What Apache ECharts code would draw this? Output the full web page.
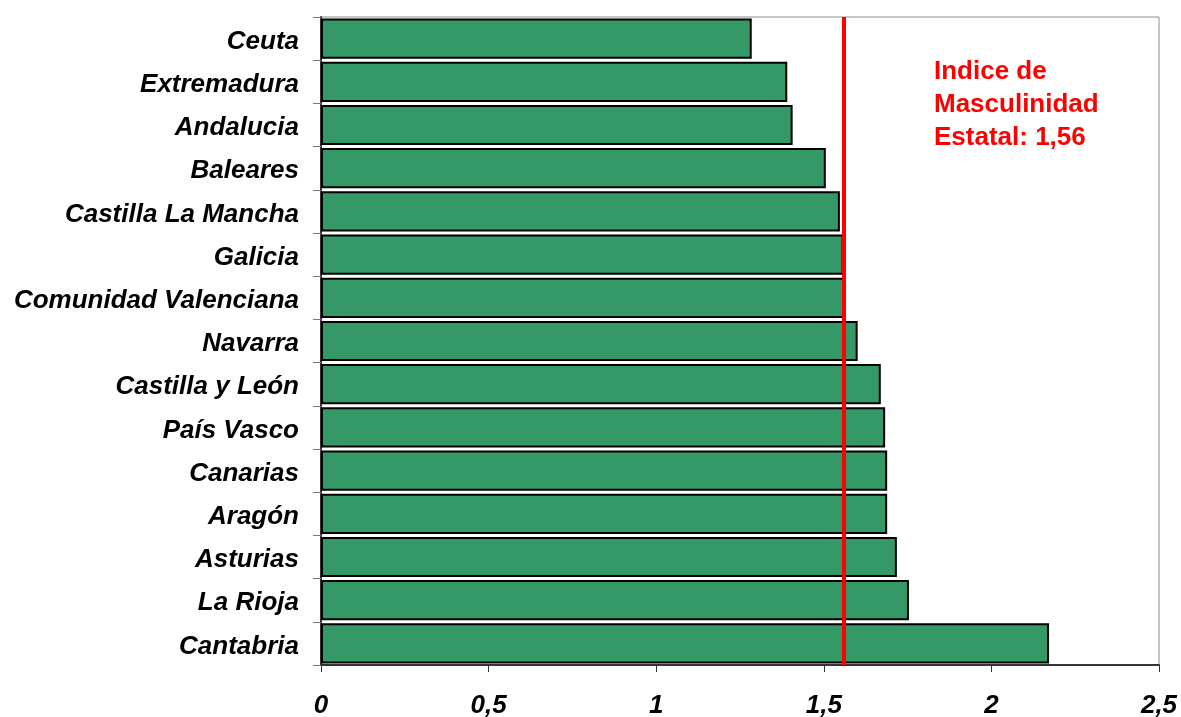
<!DOCTYPE html>
<html>
<head>
<meta charset="utf-8">
<script src="https://cdn.jsdelivr.net/npm/echarts@6/dist/echarts.min.js"></script>
<style>
  html, body { margin: 0; padding: 0; background: #ffffff; }
  #chart { width: 1181px; height: 717px; }
</style>
</head>
<body>
<div id="chart"></div>
<script>
// Comunidades autónomas, ordered top to bottom
const regions = [
  'Ceuta', 'Extremadura', 'Andalucia', 'Baleares', 'Castilla La Mancha',
  'Galicia', 'Comunidad Valenciana', 'Navarra', 'Castilla y León', 'País Vasco',
  'Canarias', 'Aragón', 'Asturias', 'La Rioja', 'Cantabria'
];
// Índice de masculinidad por comunidad
const indexValues = [
  1.285, 1.391, 1.407, 1.506, 1.548,
  1.559, 1.565, 1.601, 1.670, 1.683,
  1.689, 1.689, 1.718, 1.754, 2.172
];
// National reference value
const nationalIndex = 1.56;
const nationalLabel = ['Indice de', 'Masculinidad', 'Estatal: 1,56'];

const chart = echarts.init(document.getElementById('chart'), null, { renderer: 'canvas' });

const labelFont = {
  fontFamily: '"Liberation Sans", Arial, sans-serif',
  fontWeight: 'bold',
  fontStyle: 'italic',
  fontSize: 26,
  color: '#000000'
};

chart.setOption({
  animation: false,
  backgroundColor: '#ffffff',
  grid: {
    left: 321, right: 22, top: 17, bottom: 52,
    outerBoundsMode: 'none',
    containLabel: false,
    show: true, borderColor: '#8c8c8c', borderWidth: 1
  },
  xAxis: {
    type: 'value',
    min: 0, max: 2.5, interval: 0.5,
    axisLine: { show: true, lineStyle: { color: '#333333', width: 2 } },
    axisTick: { show: true, inside: false, length: 7, lineStyle: { color: '#333333', width: 1 } },
    splitLine: { show: false },
    axisLabel: Object.assign({
      margin: 28,
      formatter: v => String(v).replace('.', ',')
    }, labelFont)
  },
  yAxis: {
    type: 'category',
    data: regions,
    inverse: true,
    axisLine: { show: true, lineStyle: { color: '#333333', width: 2 } },
    axisTick: { show: true, inside: false, length: 8, alignWithLabel: false, lineStyle: { color: '#777777', width: 1 } },
    axisLabel: Object.assign({
      margin: 22,
      formatter: name => '{r|' + name + '}',
      rich: { r: Object.assign({ padding: [6, 0, 0, 0] }, labelFont) }
    }, labelFont)
  },
  series: [{
    type: 'bar',
    data: indexValues,
    barCategoryGap: '7%',
    itemStyle: { color: '#349966', borderColor: '#000000', borderWidth: 2 },
    markLine: {
      silent: true,
      symbol: ['none', 'none'],
      label: { show: false },
      lineStyle: { color: '#ff0000', width: 4, type: 'solid' },
      data: [{ xAxis: nationalIndex }]
    }
  }],
  graphic: [{
    type: 'text',
    left: 934,
    top: 55,
    style: {
      text: nationalLabel.join('\n'),
      fill: '#ff0000',
      font: 'bold 26px "Liberation Sans", Arial, sans-serif',
      lineHeight: 33
    }
  }]
});
</script>
</body>
</html>
